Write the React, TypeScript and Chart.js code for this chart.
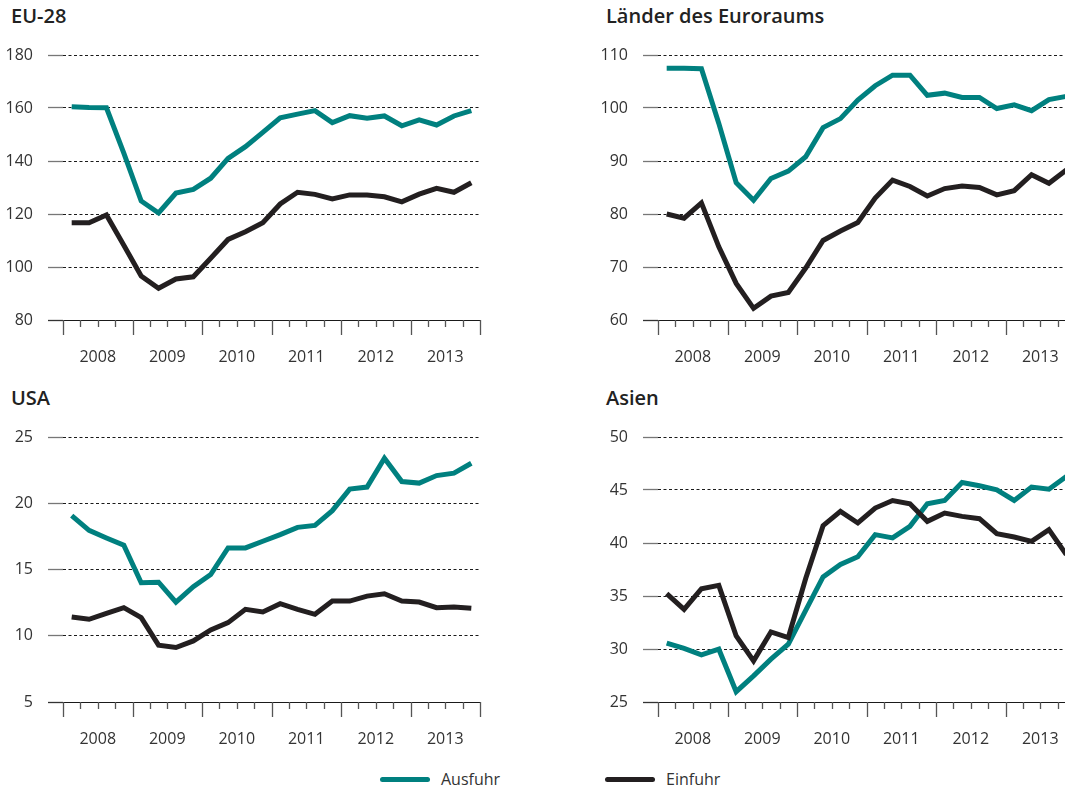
import React, { useEffect, useRef } from 'react';
import { Chart, registerables } from 'chart.js';

Chart.register(...registerables);

// 24 quarters, 2008 Q1 – 2013 Q4
const quarters = [
  '2008 Q1', '2008 Q2', '2008 Q3', '2008 Q4',
  '2009 Q1', '2009 Q2', '2009 Q3', '2009 Q4',
  '2010 Q1', '2010 Q2', '2010 Q3', '2010 Q4',
  '2011 Q1', '2011 Q2', '2011 Q3', '2011 Q4',
  '2012 Q1', '2012 Q2', '2012 Q3', '2012 Q4',
  '2013 Q1', '2013 Q2', '2013 Q3', '2013 Q4',
];
const yearLabels = ['2008', '2009', '2010', '2011', '2012', '2013'];

const eu28Ausfuhr = [160.5, 160.2, 160.1, 143.0, 124.9, 120.4, 127.9, 129.3, 133.5, 141.0, 145.4, 150.8, 156.3, 157.7, 159.0, 154.5, 157.1, 156.1, 157.0, 153.3, 155.5, 153.6, 157.0, 159.0];
const eu28Einfuhr = [116.7, 116.7, 119.6, 108.2, 96.6, 92.0, 95.5, 96.3, 103.3, 110.4, 113.3, 116.7, 123.8, 128.2, 127.4, 125.7, 127.2, 127.2, 126.5, 124.6, 127.5, 129.7, 128.2, 131.8];

const euroAusfuhr = [107.5, 107.5, 107.4, 97.1, 85.9, 82.6, 86.7, 88.1, 90.8, 96.3, 98.0, 101.5, 104.2, 106.2, 106.2, 102.4, 102.8, 102.0, 102.0, 99.9, 100.6, 99.5, 101.6, 102.2];
const euroEinfuhr = [80.0, 79.2, 82.1, 73.8, 66.9, 62.2, 64.5, 65.2, 69.8, 75.0, 76.8, 78.4, 83.0, 86.4, 85.2, 83.4, 84.8, 85.3, 85.0, 83.6, 84.4, 87.4, 85.8, 88.3];

const usaAusfuhr = [19.06, 17.95, 17.38, 16.83, 14.0, 14.04, 12.54, 13.7, 14.62, 16.63, 16.63, 17.13, 17.63, 18.18, 18.33, 19.44, 21.07, 21.22, 23.4, 21.64, 21.52, 22.09, 22.27, 23.02];
const usaEinfuhr = [11.41, 11.24, 11.69, 12.12, 11.37, 9.29, 9.11, 9.61, 10.44, 10.99, 11.99, 11.79, 12.42, 11.99, 11.62, 12.62, 12.62, 12.99, 13.17, 12.62, 12.54, 12.12, 12.17, 12.07];

const asienAusfuhr = [30.55, 30.05, 29.45, 29.98, 25.97, 27.47, 29.04, 30.45, 33.65, 36.8, 37.97, 38.7, 40.79, 40.48, 41.57, 43.7, 44.01, 45.71, 45.4, 45.02, 44.01, 45.27, 45.08, 46.27];
const asienEinfuhr = [35.22, 33.74, 35.69, 36.0, 31.23, 28.88, 31.61, 31.08, 36.65, 41.64, 42.98, 41.89, 43.3, 44.01, 43.7, 42.04, 42.83, 42.51, 42.29, 40.88, 40.57, 40.16, 41.26, 38.9];

const TEAL = '#00807f';
const DARK = '#231f20';
const FONT = "'Open Sans', 'Noto Sans', sans-serif";
const TEXT = '#333333';

const quarterTicks = {
  id: 'quarterTicks',
  afterDraw(chart: any) {
    const { ctx, chartArea, scales } = chart;
    const x = scales.x;
    ctx.save();
    ctx.strokeStyle = '#555555';
    ctx.lineWidth = 1.3;
    for (let q = 0; q <= quarters.length; q++) {
      const px = Math.round(x.getPixelForValue(q)) + 0.5;
      const len = q % 4 === 0 ? 15 : 7;
      ctx.beginPath();
      ctx.moveTo(px, chartArea.bottom);
      ctx.lineTo(px, chartArea.bottom + len);
      ctx.stroke();
    }
    ctx.restore();
  },
};

type PanelProps = {
  title: string;
  ausfuhr: number[];
  einfuhr: number[];
  yMin: number;
  yMax: number;
  yStep: number;
  left: number;
  top: number;
};

const W = 500;
const H = 382;

function Panel({ title, ausfuhr, einfuhr, yMin, yMax, yStep, left, top }: PanelProps) {
  const ref = useRef<HTMLCanvasElement | null>(null);
  useEffect(() => {
    if (!ref.current) return;
    const chart = new Chart(ref.current, {
      type: 'line',
      data: {
        datasets: [
          {
            label: 'Einfuhr',
            data: einfuhr.map((v, i) => ({ x: i + 0.5, y: v })),
            borderColor: DARK,
            borderWidth: 5,
            pointRadius: 0,
            tension: 0,
            borderJoinStyle: 'miter',
            borderCapStyle: 'butt',
          },
          {
            label: 'Ausfuhr',
            data: ausfuhr.map((v, i) => ({ x: i + 0.5, y: v })),
            borderColor: TEAL,
            borderWidth: 5,
            pointRadius: 0,
            tension: 0,
            borderJoinStyle: 'miter',
            borderCapStyle: 'butt',
          },
        ],
      },
      options: {
        responsive: false,
        animation: false,
        layout: { padding: { top: 55, left: 0, right: 20, bottom: 0 } },
        plugins: { legend: { display: false }, tooltip: { enabled: false }, title: { display: false } },
        scales: {
          x: {
            type: 'linear',
            min: 0,
            max: quarters.length,
            grid: { display: false },
            border: { display: false },
            afterBuildTicks: (s: any) => {
              s.ticks = yearLabels.map((_, k) => ({ value: 4 * k + 2 }));
            },
            afterFit: (s: any) => {
              s.height = 62;
            },
            ticks: {
              autoSkip: false,
              maxRotation: 0,
              padding: 20,
              color: TEXT,
              font: { family: FONT, size: 16 },
              callback: (v: any) => yearLabels[Math.round((Number(v) - 2) / 4)] ?? '',
            },
          },
          y: {
            min: yMin,
            max: yMax,
            grid: {
              color: '#1a1a1a',
              lineWidth: 1,
              drawTicks: true,
              tickLength: 15,
              tickWidth: 1.3,
              tickColor: (c: any) => (c.tick && c.tick.value === yMin ? '#333333' : '#777777'),
            },
            border: {
              display: false,
              dash: (c: any) => (c.tick && c.tick.value === yMin ? [] : [3, 2.5]),
            },
            afterFit: (s: any) => {
              s.width = 63;
            },
            ticks: {
              stepSize: yStep,
              padding: 15,
              color: TEXT,
              font: { family: FONT, size: 16 },
            },
          },
        },
      } as any,
      plugins: [quarterTicks],
    });
    return () => chart.destroy();
  }, [ausfuhr, einfuhr, yMin, yMax, yStep]);

  return (
    <>
      <div
        style={{
          position: 'absolute',
          left: left + 11,
          top: top + 6,
          fontFamily: FONT,
          fontWeight: 600,
          fontSize: 20,
          lineHeight: '20px',
          color: '#222222',
          whiteSpace: 'nowrap',
        }}
      >
        {title}
      </div>
      <canvas
        ref={ref}
        width={W}
        height={H}
        style={{ position: 'absolute', left, top, width: W, height: H, display: 'block' }}
      />
    </>
  );
}

function LegendItem({ color, label, left }: { color: string; label: string; left: number }) {
  return (
    <div style={{ position: 'absolute', left, top: 769, height: 20, display: 'flex', alignItems: 'center' }}>
      <div style={{ width: 50, height: 5, borderRadius: 3, background: color }} />
      <span style={{ marginLeft: 11, fontFamily: FONT, fontSize: 16, color: TEXT, lineHeight: '20px' }}>{label}</span>
    </div>
  );
}

export default function App() {
  return (
    <div
      style={{
        position: 'fixed',
        left: 0,
        top: 0,
        width: 1065,
        height: 789,
        overflow: 'hidden',
        background: '#ffffff',
      }}
    >
      <Panel title="EU-28" ausfuhr={eu28Ausfuhr} einfuhr={eu28Einfuhr} yMin={80} yMax={180} yStep={20} left={0} top={0} />
      <Panel title="Länder des Euroraums" ausfuhr={euroAusfuhr} einfuhr={euroEinfuhr} yMin={60} yMax={110} yStep={10} left={595} top={0} />
      <Panel title="USA" ausfuhr={usaAusfuhr} einfuhr={usaEinfuhr} yMin={5} yMax={25} yStep={5} left={0} top={382} />
      <Panel title="Asien" ausfuhr={asienAusfuhr} einfuhr={asienEinfuhr} yMin={25} yMax={50} yStep={5} left={595} top={382} />
      <LegendItem color={TEAL} label="Ausfuhr" left={380} />
      <LegendItem color={DARK} label="Einfuhr" left={605} />
    </div>
  );
}
